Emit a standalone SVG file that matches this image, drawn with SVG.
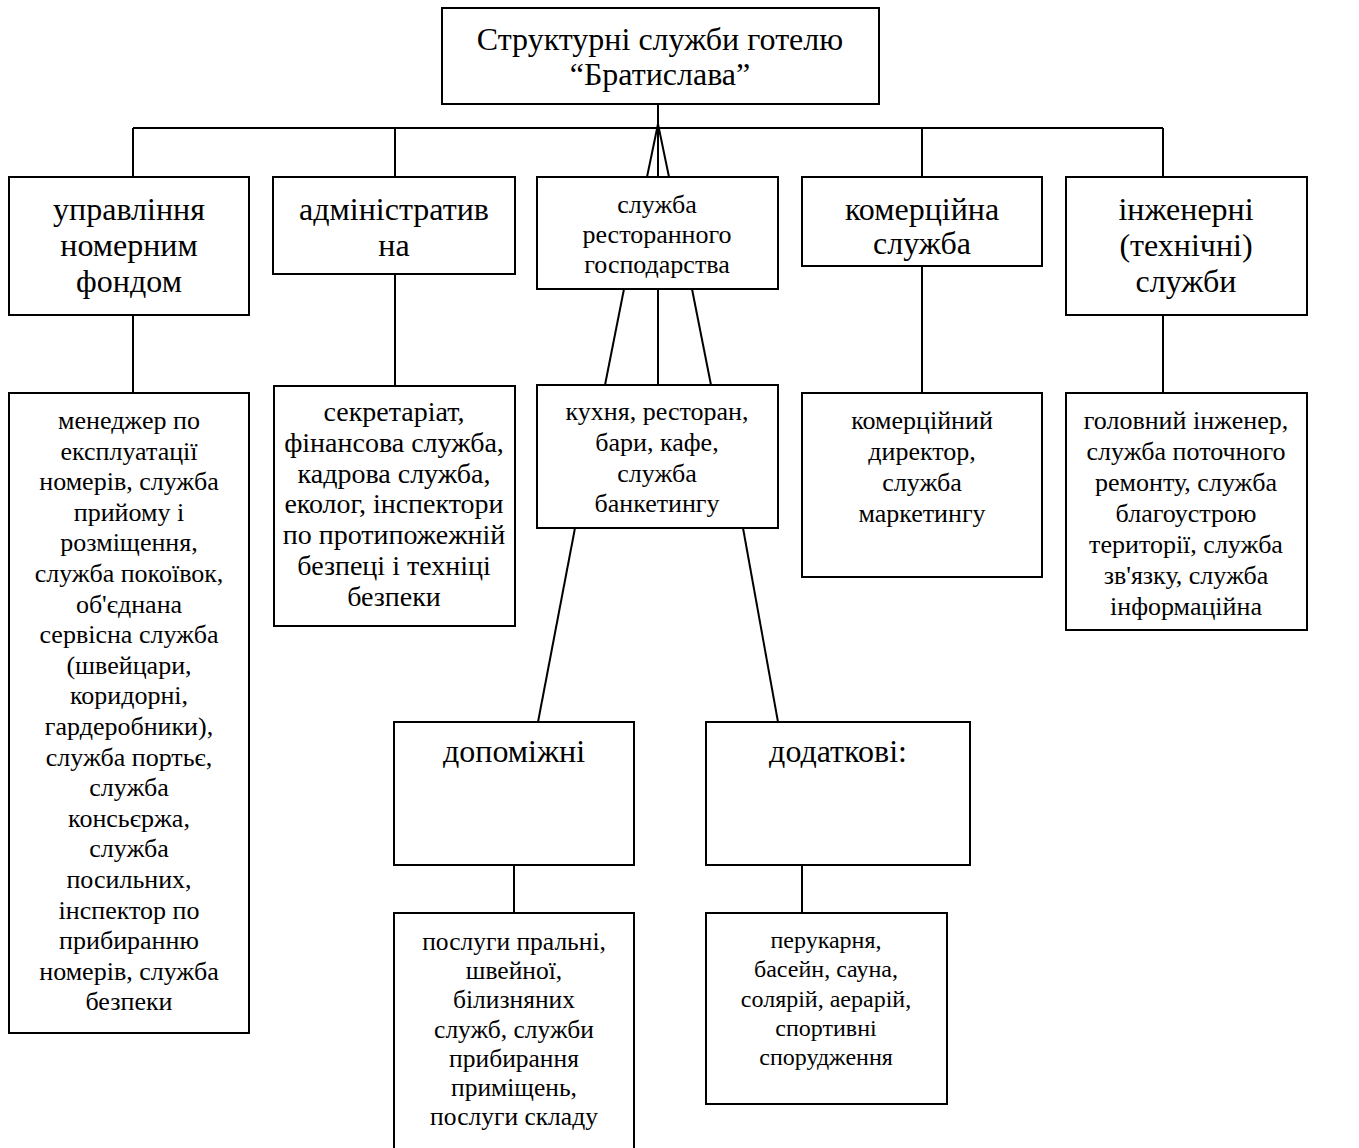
<svg xmlns="http://www.w3.org/2000/svg" width="1359" height="1148" viewBox="0 0 1359 1148">
<style>
rect{fill:#fff;stroke:#000;stroke-width:2}
.c line{stroke:#000;stroke-width:2}
text{font-family:"Liberation Serif","Times New Roman",serif;fill:#000;text-anchor:middle}
.h{font-size:32px}
.m{font-size:26px}
.a{font-size:28px}
.s{font-size:24px}
.t{font-size:25.5px}
</style>
<rect x="0" y="0" width="1359" height="1148" style="stroke:none"/>
<g class="c" id="connectors">
<line x1="658" y1="104" x2="658" y2="128"/>
<line x1="133" y1="128" x2="1163" y2="128"/>
<line x1="133" y1="128" x2="133" y2="177"/>
<line x1="395" y1="128" x2="395" y2="177"/>
<line x1="922" y1="128" x2="922" y2="177"/>
<line x1="1163" y1="128" x2="1163" y2="177"/>
<line x1="658" y1="124" x2="647" y2="177"/>
<line x1="658" y1="124" x2="658" y2="177"/>
<line x1="658" y1="124" x2="669" y2="177"/>
<line x1="133" y1="315" x2="133" y2="393"/>
<line x1="395" y1="274" x2="395" y2="386"/>
<line x1="624" y1="289" x2="605" y2="385"/>
<line x1="658" y1="289" x2="658" y2="385"/>
<line x1="692" y1="289" x2="711" y2="385"/>
<line x1="922" y1="266" x2="922" y2="393"/>
<line x1="1163" y1="315" x2="1163" y2="393"/>
<line x1="575" y1="528" x2="538" y2="722"/>
<line x1="743" y1="528" x2="778" y2="722"/>
<line x1="514" y1="865" x2="514" y2="913"/>
<line x1="802" y1="865" x2="802" y2="913"/>
</g>
<g id="top">
<rect x="442" y="8" width="437" height="96"/>
<text class="h" x="660" y="50">Структурні служби готелю</text>
<text class="h" x="660" y="85">“Братислава”</text>
</g>
<g id="n1">
<rect x="9" y="177" width="240" height="138"/>
<text class="h" x="129" y="220">управління</text>
<text class="h" x="129" y="256">номерним</text>
<text class="h" x="129" y="292">фондом</text>
</g>
<g id="n2">
<rect x="273" y="177" width="242" height="97"/>
<text class="h" x="394" y="220">адміністратив</text>
<text class="h" x="394" y="256">на</text>
</g>
<g id="n3">
<rect x="537" y="177" width="241" height="112"/>
<text class="m" x="657" y="213">служба</text>
<text class="m" x="657" y="243">ресторанного</text>
<text class="m" x="657" y="273">господарства</text>
</g>
<g id="n4">
<rect x="802" y="177" width="240" height="89"/>
<text class="h" x="922" y="220">комерційна</text>
<text class="h" x="922" y="254">служба</text>
</g>
<g id="n5">
<rect x="1066" y="177" width="241" height="138"/>
<text class="h" x="1186" y="220">інженерні</text>
<text class="h" x="1186" y="256">(технічні)</text>
<text class="h" x="1186" y="292">служби</text>
</g>
<g id="c1">
<rect x="9" y="393" width="240" height="640"/>
<text class="m" x="129" y="429">менеджер по</text>
<text class="m" x="129" y="460">експлуатації</text>
<text class="m" x="129" y="490">номерів, служба</text>
<text class="m" x="129" y="521">прийому і</text>
<text class="m" x="129" y="551">розміщення,</text>
<text class="m" x="129" y="582">служба покоївок,</text>
<text class="m" x="129" y="613">об'єднана</text>
<text class="m" x="129" y="643">сервісна служба</text>
<text class="m" x="129" y="674">(швейцари,</text>
<text class="m" x="129" y="704">коридорні,</text>
<text class="m" x="129" y="735">гардеробники),</text>
<text class="m" x="129" y="766">служба портьє,</text>
<text class="m" x="129" y="796">служба</text>
<text class="m" x="129" y="827">консьєржа,</text>
<text class="m" x="129" y="857">служба</text>
<text class="m" x="129" y="888">посильних,</text>
<text class="m" x="129" y="919">інспектор по</text>
<text class="m" x="129" y="949">прибиранню</text>
<text class="m" x="129" y="980">номерів, служба</text>
<text class="m" x="129" y="1010">безпеки</text>
</g>
<g id="c2">
<rect x="274" y="386" width="241" height="240"/>
<text class="a" x="394" y="421">секретаріат,</text>
<text class="a" x="394" y="452">фінансова служба,</text>
<text class="a" x="394" y="483">кадрова служба,</text>
<text class="a" x="394" y="513">еколог, інспектори</text>
<text class="a" x="394" y="544">по протипожежній</text>
<text class="a" x="394" y="575">безпеці і техніці</text>
<text class="a" x="394" y="606">безпеки</text>
</g>
<g id="c3">
<rect x="537" y="385" width="241" height="143"/>
<text class="m" x="657" y="420">кухня, ресторан,</text>
<text class="m" x="657" y="451">бари, кафе,</text>
<text class="m" x="657" y="482">служба</text>
<text class="m" x="657" y="512">банкетингу</text>
</g>
<g id="c4">
<rect x="802" y="393" width="240" height="184"/>
<text class="m" x="922" y="429">комерційний</text>
<text class="m" x="922" y="460">директор,</text>
<text class="m" x="922" y="491">служба</text>
<text class="m" x="922" y="522">маркетингу</text>
</g>
<g id="c5">
<rect x="1066" y="393" width="241" height="237"/>
<text class="m" x="1186" y="429">головний інженер,</text>
<text class="m" x="1186" y="460">служба поточного</text>
<text class="m" x="1186" y="491">ремонту, служба</text>
<text class="m" x="1186" y="522">благоустрою</text>
<text class="m" x="1186" y="553">території, служба</text>
<text class="m" x="1186" y="584">зв'язку, служба</text>
<text class="m" x="1186" y="615">інформаційна</text>
</g>
<g id="d1">
<rect x="394" y="722" width="240" height="143"/>
<text class="h" x="514" y="762">допоміжні</text>
</g>
<g id="d2">
<rect x="706" y="722" width="264" height="143"/>
<text class="h" x="838" y="762">додаткові:</text>
</g>
<g id="e1">
<rect x="394" y="913" width="240" height="245"/>
<text class="t" x="514" y="950">послуги пральні,</text>
<text class="t" x="514" y="979">швейної,</text>
<text class="t" x="514" y="1008">білизняних</text>
<text class="t" x="514" y="1038">служб, служби</text>
<text class="t" x="514" y="1067">прибирання</text>
<text class="t" x="514" y="1096">приміщень,</text>
<text class="t" x="514" y="1125">послуги складу</text>
</g>
<g id="e2">
<rect x="706" y="913" width="241" height="191"/>
<text class="s" x="826" y="948">перукарня,</text>
<text class="s" x="826" y="977">басейн, сауна,</text>
<text class="s" x="826" y="1007">солярій, аерарій,</text>
<text class="s" x="826" y="1036">спортивні</text>
<text class="s" x="826" y="1065">спорудження</text>
</g>
</svg>
